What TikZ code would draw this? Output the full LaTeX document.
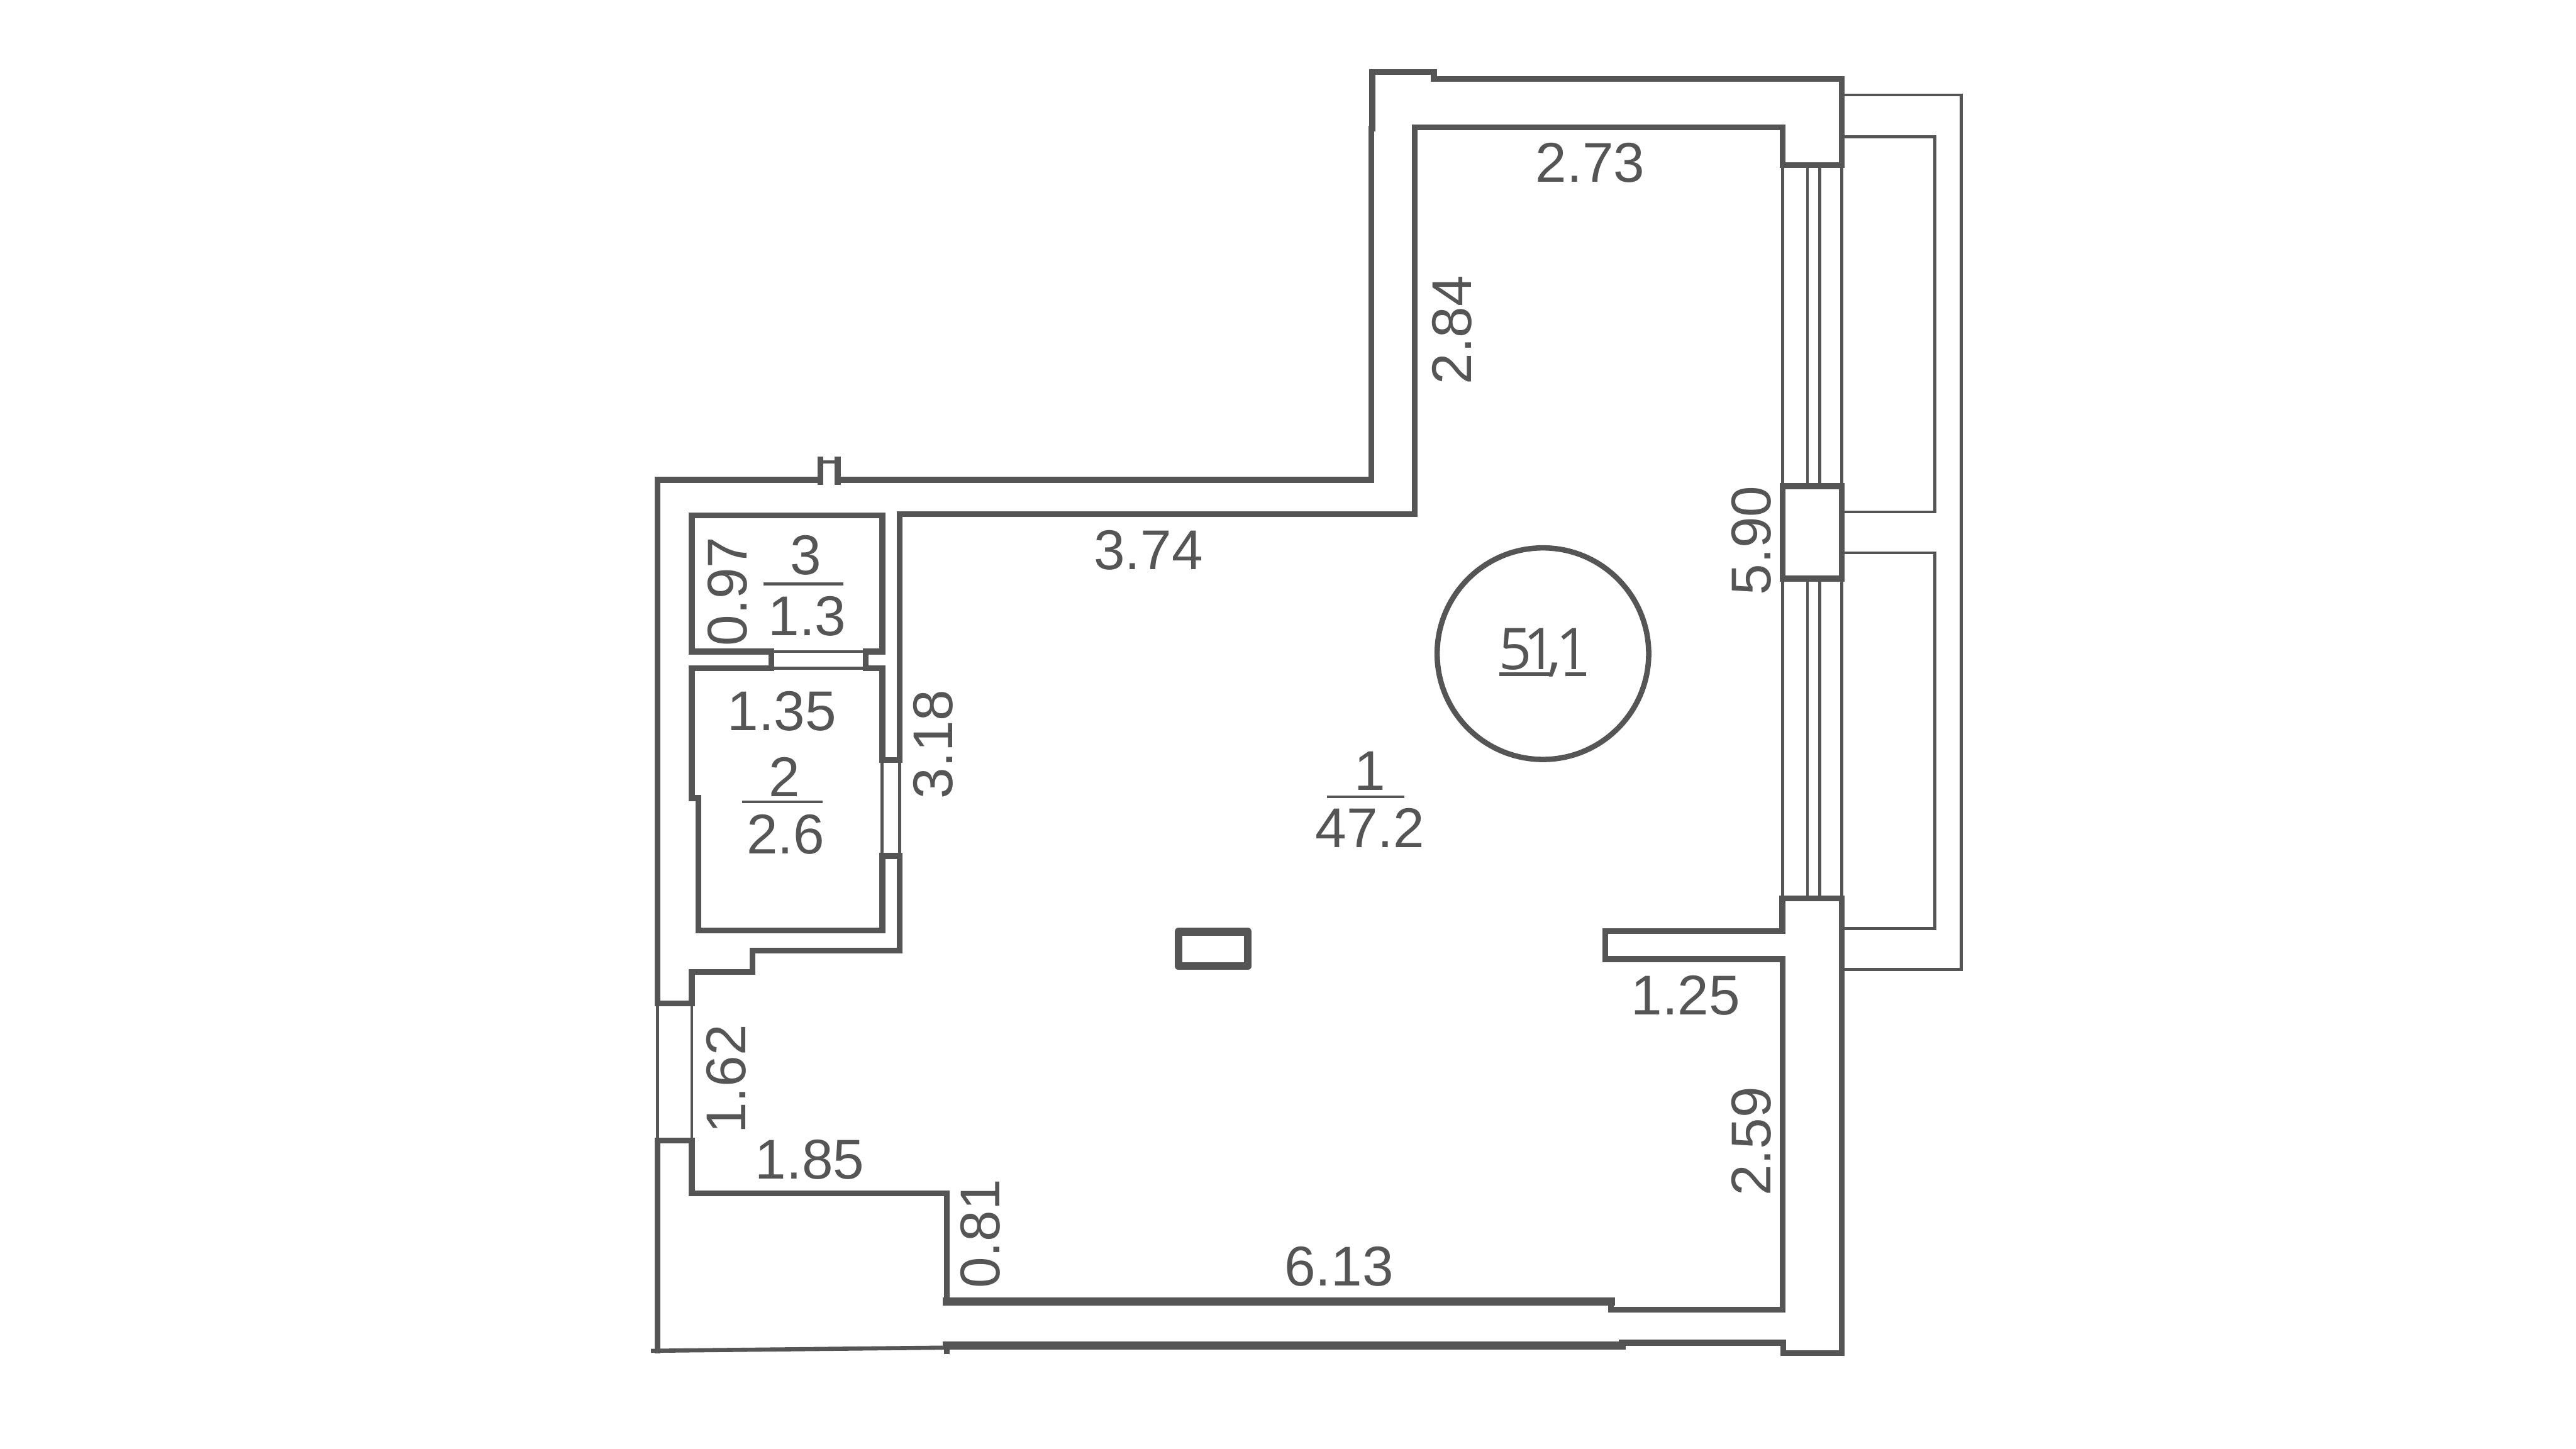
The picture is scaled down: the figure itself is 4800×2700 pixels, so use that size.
\documentclass[tikz,border=0pt]{standalone}
\usepackage{fontspec}
\setmainfont{Liberation Sans}
\newfontfamily\totalfont{Open Sans}
\definecolor{plangray}{HTML}{555555}

\begin{document}
\begin{tikzpicture}[x=0.01cm, y=-0.01cm,
    wall/.style={draw=plangray, line width=3.1pt, line cap=rect},
    heavy wall/.style={draw=plangray, line width=4.4pt, line cap=rect},
    thin wall/.style={draw=plangray, line width=1.6pt},
    area rule/.style={draw=plangray, line width=1.5pt},
    dim/.style={text=plangray, font=\fontsize{29.7}{30}\selectfont, inner sep=0pt},
    vdim/.style={dim, rotate=90}]

  \useasboundingbox (0,0) rectangle (4800,2700);

  % Balcony
  \draw[thin wall] (3432,177) -- (3654,177) -- (3654,1806) -- (3432,1806);
  \draw[thin wall] (3432,255) -- (3605,255) -- (3605,954) -- (3432,954);
  \draw[thin wall] (3432,1030) -- (3605,1030) -- (3605,1730) -- (3432,1730);

  % Windows on the right
  \foreach \xpos in {3322,3368,3391,3432} {
    \draw[thin wall] (\xpos,308) -- (\xpos,906);
    \draw[thin wall] (\xpos,1078) -- (\xpos,1674);
  }

  % Left window and inner door openings
  \draw[thin wall] (1225,1870) -- (1225,2125);
  \draw[thin wall] (1289,1870) -- (1289,2125);
  \draw[thin wall] (1644,1416) -- (1644,1595);
  \draw[thin wall] (1676,1416) -- (1676,1595);
  \draw[thin wall] (1437,1214) -- (1613,1214);
  \draw[thin wall] (1437,1245) -- (1613,1245);

  % Outer walls
  \draw[wall] (1529,894) -- (1225,894) -- (1225,1870) -- (1289,1870) -- (1289,1811) -- (1402,1811) -- (1402,1771) -- (1676,1771) -- (1676,1595) -- (1644,1595);
  \draw[wall] (1561,894) -- (2555,894) -- (2555,240) -- (2557,240) -- (2557,134) -- (2672,134) -- (2672,147) -- (3432,147) -- (3432,308) -- (3322,308) -- (3322,237) -- (2636,237) -- (2636,958) -- (1676,958) -- (1676,1416) -- (1644,1416);
  \draw[wall] (1225,2125) -- (1225,2516);
  \draw[wall] (1225,2125) -- (1289,2125) -- (1289,2224) -- (1764,2224) -- (1764,2425);
  \draw[wall] (3002,2425) -- (3002,2440) -- (3322,2440) -- (3322,1787) -- (2991,1787) -- (2991,1735) -- (3321,1735) -- (3321,1674) -- (3432,1674) -- (3432,2521) -- (3323,2521) -- (3323,2502) -- (3022,2502) -- (3022,2507);
  \draw[heavy wall] (1764,2425) -- (3002,2425);
  \draw[heavy wall] (1764,2507) -- (3022,2507);
  \draw[line width=2.2pt, plangray] (1213,2517) -- (1764,2511);
  \draw[wall] (1764,2509) -- (1764,2518);

  % Chimney stub on the top wall
  \draw[wall] (1529,856) -- (1529,898);
  \draw[wall] (1561,856) -- (1561,898);
  \draw[thin wall] (1529,861) -- (1561,861);

  % Pier between the windows
  \draw[wall] (3322,906) rectangle (3432,1078);

  % Room 3
  \draw[wall] (1437,1214) -- (1289,1214) -- (1289,960) -- (1644,960) -- (1644,1214) -- (1613,1214);
  \draw[wall] (1437,1214) -- (1437,1245);
  \draw[wall] (1613,1214) -- (1613,1245);

  % Room 2
  \draw[wall] (1437,1245) -- (1289,1245) -- (1289,1487) -- (1301,1487) -- (1301,1734) -- (1644,1734) -- (1644,1595);
  \draw[wall] (1613,1245) -- (1644,1245) -- (1644,1416);

  % Column
  \draw[draw=plangray, line width=4.25pt, line join=round] (2196,1736) rectangle (2325,1800);

  % Wall lengths
  \node[dim] (L273) at (2963,303) {2.73};
  \node[vdim] (L284) at (2706,615) {2.84};
  \node[vdim] (L590) at (3263,1007) {5.90};
  \node[dim] (L374) at (2140,1025) {3.74};
  \node[vdim] (L097) at (1356,1102) {0.97};
  \node[dim] (L135) at (1457,1325) {1.35};
  \node[vdim] (L318) at (1739,1387) {3.18};
  \node[dim] (L125) at (3141,1855) {1.25};
  \node[vdim] (L162) at (1353,2011) {1.62};
  \node[dim] (L185) at (1509,2161) {1.85};
  \node[vdim] (L259) at (3263,2127) {2.59};
  \node[vdim] (L081) at (1827,2299) {0.81};
  \node[dim] (L613) at (2495,2360) {6.13};

  % Room numbers and areas
  \node[dim] (N3) at (1502,1035) {3};
  \node[dim] (A3) at (1504,1148) {1.3};
  \draw[area rule] (1423,1088) -- (1572,1088);
  \node[dim] (N2) at (1462,1448) {2};
  \node[dim] (A2) at (1464,1555) {2.6};
  \draw[area rule] (1383,1494) -- (1533,1494);
  \node[dim] (N1) at (2553,1436) {1};
  \node[dim] (A1) at (2553,1543) {47.2};
  \draw[area rule] (2473,1485) -- (2617,1485);

  % Total area
  \node[circle, draw=plangray, line width=2.85pt, minimum size=3.94cm, inner sep=0pt] (total) at (2875,1218) {};
  \node[anchor=base, text=plangray, font=\totalfont\fontsize{30.5}{30.5}\selectfont, inner sep=0pt] (totaltext) at (2877,1248) {5\kern-.14em1\kern-.16em,\kern-.09em1};
  \draw[draw=plangray, line width=2pt] (2794,1256.5) -- (2887,1256.5);
  \draw[draw=plangray, line width=2pt] (2917,1256.5) -- (2955,1256.5);

\end{tikzpicture}
\end{document}
